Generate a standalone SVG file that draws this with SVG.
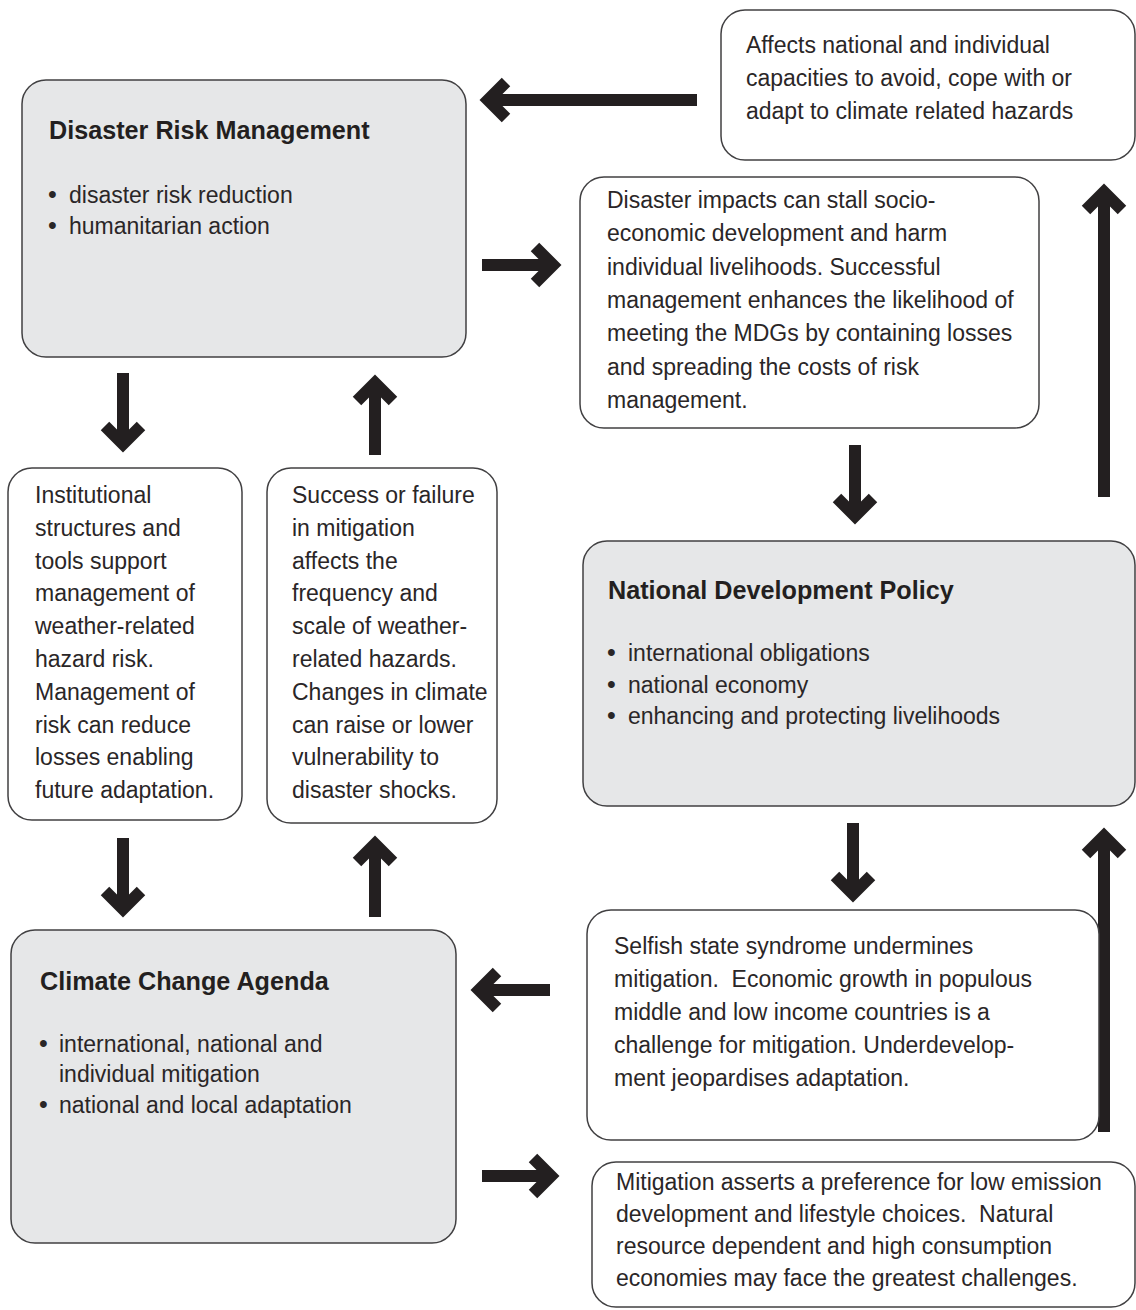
<svg xmlns="http://www.w3.org/2000/svg" width="1136" height="1310" viewBox="0 0 1136 1310">
<style>
.box{fill:#ffffff;stroke:#414042;stroke-width:1.5}
.gbox{fill:#e6e7e8;stroke:#414042;stroke-width:1.5}
text{font-family:"Liberation Sans",Arial,sans-serif;font-size:23px;fill:#2a2627}
.t{font-weight:bold;font-size:25.2px;fill:#231f20}
.b{font-size:25px}
.arr{fill:none;stroke:#231f20;stroke-width:12;stroke-linejoin:miter;stroke-linecap:butt}
</style>
<rect width="1136" height="1310" fill="#ffffff"/>
<g id="connectors">
<path class="arr" d="M697 100 H488 M506 82 L488 100 L506 118"/>
<path class="arr" d="M482 265 H553 M535 247 L553 265 L535 283"/>
<path class="arr" d="M123 373 V444 M105 426 L123 444 L141 426"/>
<path class="arr" d="M375 455 V383 M357 401 L375 383 L393 401"/>
<path class="arr" d="M123 838 V909 M105 891 L123 909 L141 891"/>
<path class="arr" d="M375 917 V844 M357 862 L375 844 L393 862"/>
<path class="arr" d="M855 445 V516 M837 498 L855 516 L873 498"/>
<path class="arr" d="M1104 497 V192 M1086 210 L1104 192 L1122 210"/>
<path class="arr" d="M853 823 V894 M835 876 L853 894 L871 876"/>
<path class="arr" d="M1104 1132 V836 M1086 854 L1104 836 L1122 854"/>
<path class="arr" d="M550 990 H479 M497 972 L479 990 L497 1008"/>
<path class="arr" d="M482 1176 H551 M533 1158 L551 1176 L533 1194"/>
</g>
<g id="n-affects">
<rect class="box" x="721" y="10" width="414" height="150" rx="24"/>
<text x="746" y="53">Affects national and individual</text>
<text x="746" y="86">capacities to avoid, cope with or</text>
<text x="746" y="119">adapt to climate related hazards</text>
</g>
<g id="n-drm">
<rect class="gbox" x="22" y="80" width="444" height="277" rx="24"/>
<text class="t" x="49" y="139">Disaster Risk Management</text>
<text class="b" x="48" y="203">•</text><text x="69" y="203">disaster risk reduction</text>
<text class="b" x="48" y="234">•</text><text x="69" y="234">humanitarian action</text>
</g>
<g id="n-impacts">
<rect class="box" x="580" y="177" width="459" height="251" rx="24"/>
<text x="607" y="208">Disaster impacts can stall socio-</text>
<text x="607" y="241">economic development and harm</text>
<text x="607" y="275">individual livelihoods. Successful</text>
<text x="607" y="308">management enhances the likelihood of</text>
<text x="607" y="341">meeting the MDGs by containing losses</text>
<text x="607" y="375">and spreading the costs of risk</text>
<text x="607" y="408">management.</text>
</g>
<g id="n-institutional">
<rect class="box" x="8" y="468" width="234" height="352" rx="24"/>
<text x="35" y="503">Institutional</text>
<text x="35" y="536">structures and</text>
<text x="35" y="569">tools support</text>
<text x="35" y="601">management of</text>
<text x="35" y="634">weather-related</text>
<text x="35" y="667">hazard risk.</text>
<text x="35" y="700">Management of</text>
<text x="35" y="733">risk can reduce</text>
<text x="35" y="765">losses enabling</text>
<text x="35" y="798">future adaptation.</text>
</g>
<g id="n-success">
<rect class="box" x="267" y="468" width="230" height="355" rx="24"/>
<text x="292" y="503">Success or failure</text>
<text x="292" y="536">in mitigation</text>
<text x="292" y="569">affects the</text>
<text x="292" y="601">frequency and</text>
<text x="292" y="634">scale of weather-</text>
<text x="292" y="667">related hazards.</text>
<text x="292" y="700">Changes in climate</text>
<text x="292" y="733">can raise or lower</text>
<text x="292" y="765">vulnerability to</text>
<text x="292" y="798">disaster shocks.</text>
</g>
<g id="n-ndp">
<rect class="gbox" x="583" y="541" width="552" height="265" rx="24"/>
<text class="t" x="608" y="599">National Development Policy</text>
<text class="b" x="607" y="661">•</text><text x="628" y="661">international obligations</text>
<text class="b" x="607" y="693">•</text><text x="628" y="693">national economy</text>
<text class="b" x="607" y="724">•</text><text x="628" y="724">enhancing and protecting livelihoods</text>
</g>
<g id="n-cca">
<rect class="gbox" x="11" y="930" width="445" height="313" rx="24"/>
<text class="t" x="40" y="990">Climate Change Agenda</text>
<text class="b" x="39" y="1052">•</text><text x="59" y="1052">international, national and</text>
<text x="59" y="1082">individual mitigation</text>
<text class="b" x="39" y="1113">•</text><text x="59" y="1113">national and local adaptation</text>
</g>
<g id="n-selfish">
<rect class="box" x="587" y="910" width="512" height="230" rx="24"/>
<text x="614" y="954">Selfish state syndrome undermines</text>
<text x="614" y="987" style="white-space:pre">mitigation.  Economic growth in populous</text>
<text x="614" y="1020">middle and low income countries is a</text>
<text x="614" y="1053">challenge for mitigation. Underdevelop-</text>
<text x="614" y="1086">ment jeopardises adaptation.</text>
</g>
<g id="n-mitigation">
<rect class="box" x="592" y="1162" width="543" height="145" rx="24"/>
<text x="616" y="1190">Mitigation asserts a preference for low emission</text>
<text x="616" y="1222" style="white-space:pre">development and lifestyle choices.  Natural</text>
<text x="616" y="1254">resource dependent and high consumption</text>
<text x="616" y="1286">economies may face the greatest challenges.</text>
</g>
</svg>
